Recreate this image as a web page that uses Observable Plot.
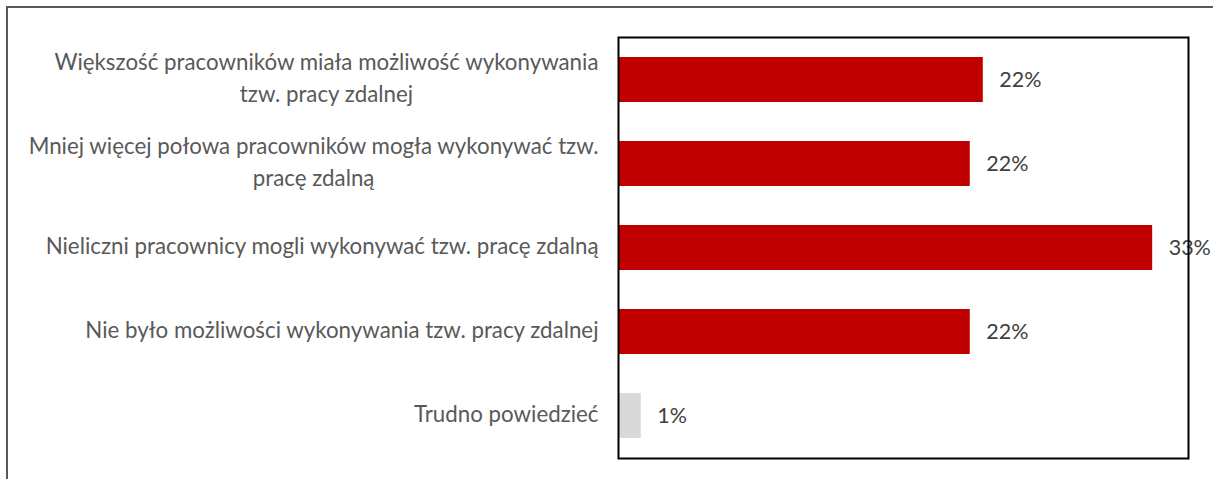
<!DOCTYPE html>
<html><head><meta charset="utf-8">
<script src="https://cdn.jsdelivr.net/npm/d3@7"></script>
<script src="https://cdn.jsdelivr.net/npm/@observablehq/plot@0.6"></script>
<style>
body{margin:0;background:#fff;}
#wrap{position:relative;width:1213px;height:479px;overflow:hidden;}
#border{position:absolute;left:6px;top:6px;right:-4px;bottom:-4px;border-top:2px solid #595959;border-left:2px solid #595959;pointer-events:none;}
</style></head><body><div id="wrap"><div id="chart"></div><div id="border"></div></div>
<script>
const categories = [
  "Większość pracowników miała możliwość wykonywania tzw. pracy zdalnej",
  "Mniej więcej połowa pracowników mogła wykonywać tzw. pracę zdalną",
  "Nieliczni pracownicy mogli wykonywać tzw. pracę zdalną",
  "Nie było możliwości wykonywania tzw. pracy zdalnej",
  "Trudno powiedzieć"
];
const tickLabels = [
  "Większość pracowników miała możliwość wykonywania\ntzw. pracy zdalnej",
  "Mniej więcej połowa pracowników mogła wykonywać tzw.\npracę zdalną",
  "Nieliczni pracownicy mogli wykonywać tzw. pracę zdalną",
  "Nie było możliwości wykonywania tzw. pracy zdalnej",
  "Trudno powiedzieć"
];
const values = [0.224, 0.216, 0.328, 0.216, 0.014];
const barColors = ["#C00000", "#C00000", "#C00000", "#C00000", "#D9D9D9"];

const data = categories.map((c, i) => ({category: c, value: values[i], color: barColors[i]}));
const labelOf = new Map(categories.map((c, i) => [c, tickLabels[i]]));
const pct = d3.format(".0%");

const chart = Plot.plot({
  width: 1213, height: 479,
  marginLeft: 618, marginRight: 25, marginTop: 37, marginBottom: 21,
  style: {fontFamily: "Lato, 'Open Sans', sans-serif", background: "white"},
  x: {domain: [0, 0.35], axis: null},
  y: {domain: categories, paddingInner: 0.47, paddingOuter: 0.235, axis: null, label: null},
  color: {type: "identity"},
  marks: [
    Plot.barX(data, {x: "value", y: "category", fill: "color"}),
    Plot.text(data, {x: "value", y: "category", text: d => pct(d.value), textAnchor: "start", dx: 16, fontSize: 21.5, fill: "#404040"}),
    Plot.axisY({label: null, tickSize: 0, tickPadding: 20, dy: -4, tickFormat: c => labelOf.get(c), fontSize: 22.3, lineHeight: 1.43, color: "#595959", textAnchor: "end"}),
    Plot.frame({stroke: "#000", strokeWidth: 2})
  ]
});
document.getElementById("chart").append(chart);

chart.querySelectorAll('g[aria-label="y-axis tick label"] text').forEach(t => {
  const spans = t.querySelectorAll("tspan");
  if (spans.length > 1) {
    const w = Math.max(...Array.from(spans, s => s.getComputedTextLength()));
    t.setAttribute("text-anchor", "middle");
    t.setAttribute("transform", (t.getAttribute("transform") || "") + ` translate(${-w / 2},0)`);
  }
});
</script>
</body></html>
